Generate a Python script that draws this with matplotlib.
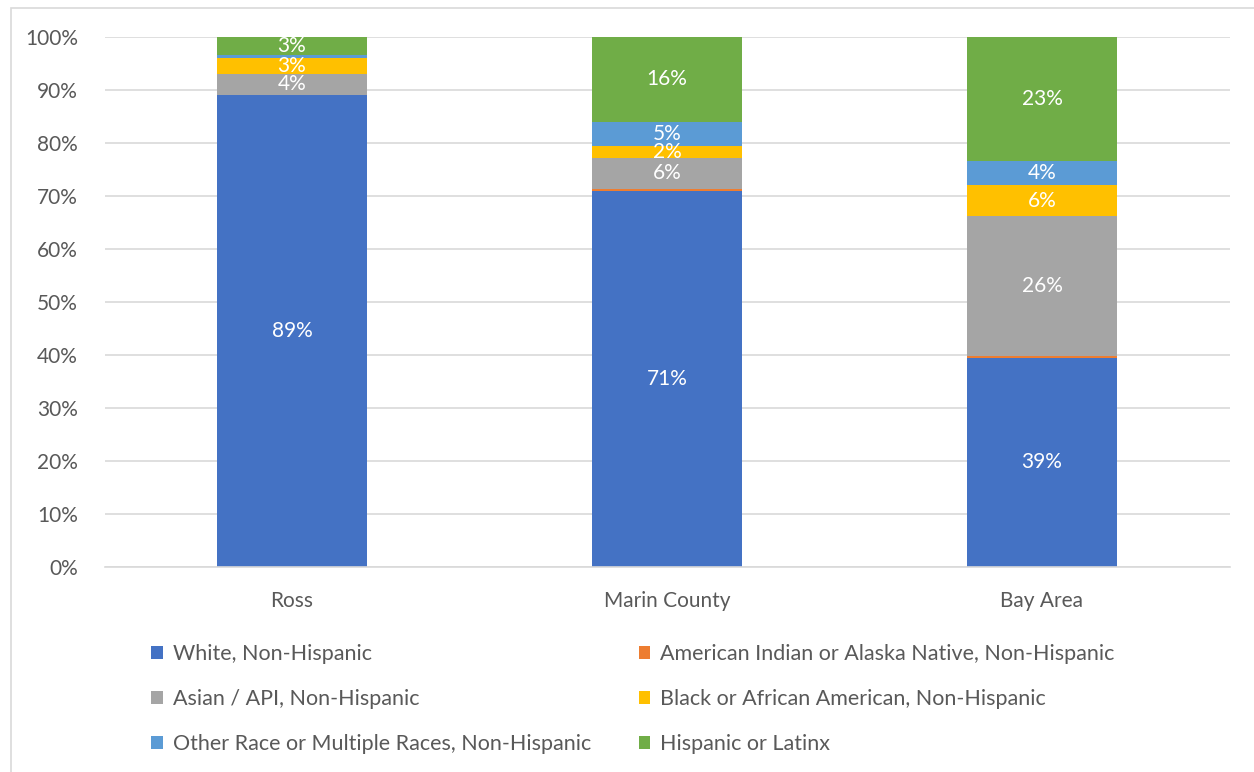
import matplotlib.pyplot as plt
from matplotlib.patches import Rectangle

plt.rcParams['font.family'] = ['Lato', 'DejaVu Sans']

# Data (percent of population)
places = ["Ross", "Marin County", "Bay Area"]
groups = [
    "White, Non-Hispanic",
    "American Indian or Alaska Native, Non-Hispanic",
    "Asian / API, Non-Hispanic",
    "Black or African American, Non-Hispanic",
    "Other Race or Multiple Races, Non-Hispanic",
    "Hispanic or Latinx",
]
white = [89.0, 71.0, 39.4]
native = [0.1, 0.3, 0.4]
asian = [4.0, 5.9, 26.3]
black = [3.0, 2.2, 5.8]
other = [0.5, 4.6, 4.5]
hispanic = [3.4, 16.0, 23.4]

series = [white, native, asian, black, other, hispanic]
colors = ["#4472c4", "#ed7d31", "#a5a5a5", "#ffc000", "#5b9bd5", "#70ad47"]
text_grey = "#595959"

# 100% stacked: scale each column to its total
totals = [sum(col) for col in zip(*series)]

fig = plt.figure(figsize=(12.54, 7.72), dpi=100)
ax = fig.add_axes([104.5 / 1254, 1 - 567 / 772, 1125 / 1254, 530 / 772])

x = range(len(places))
bottom = [0.0] * len(places)
handles = []
for vals, col, name in zip(series, colors, groups):
    heights = [v / t * 100 for v, t in zip(vals, totals)]
    bars = ax.bar(x, heights, width=0.4, bottom=bottom, color=col, label=name)
    handles.append(bars)
    for i, v in enumerate(vals):
        if v >= 1:
            ax.text(i, bottom[i] + heights[i] / 2, f"{v:.0f}%", ha="center",
                    va="center", color="white", fontsize=15)
    bottom = [b + h for b, h in zip(bottom, heights)]

ax.set_xlim(-0.5, 2.5)
ax.set_ylim(0, 100)
ax.set_yticks(range(0, 101, 10))
ax.set_yticklabels([f"{t}%" for t in range(0, 101, 10)])
ax.set_xticks(list(x))
ax.set_xticklabels(places)
ax.tick_params(length=0, labelsize=15, labelcolor=text_grey)
ax.tick_params(axis="y", pad=19)
ax.tick_params(axis="x", pad=17)
ax.grid(axis="y", color="#d9d9d9", linewidth=1.2)
ax.set_axisbelow(True)
for s in ["top", "right", "left"]:
    ax.spines[s].set_visible(False)
ax.spines["bottom"].set_color("#d9d9d9")
ax.spines["bottom"].set_linewidth(1.2)

# legend: Excel fills row by row, matplotlib column by column
order = [0, 2, 4, 1, 3, 5]
leg = fig.legend([handles[i] for i in order], [groups[i] for i in order],
                 loc="upper left", bbox_to_anchor=(132 / 1254, 1 - 625 / 772),
                 ncol=2, frameon=False, fontsize=15.5, labelcolor=text_grey,
                 handlelength=0.55, handleheight=0.55, handletextpad=0.45,
                 columnspacing=2.2, labelspacing=1.15)

# chart area border
fig.patches.append(Rectangle((11 / 1254, -0.1), 1.2, 1 - 8 / 772 + 0.1,
                             transform=fig.transFigure, fill=False,
                             edgecolor="#d9d9d9", linewidth=1.2))

plt.savefig("out.png", dpi=100)
